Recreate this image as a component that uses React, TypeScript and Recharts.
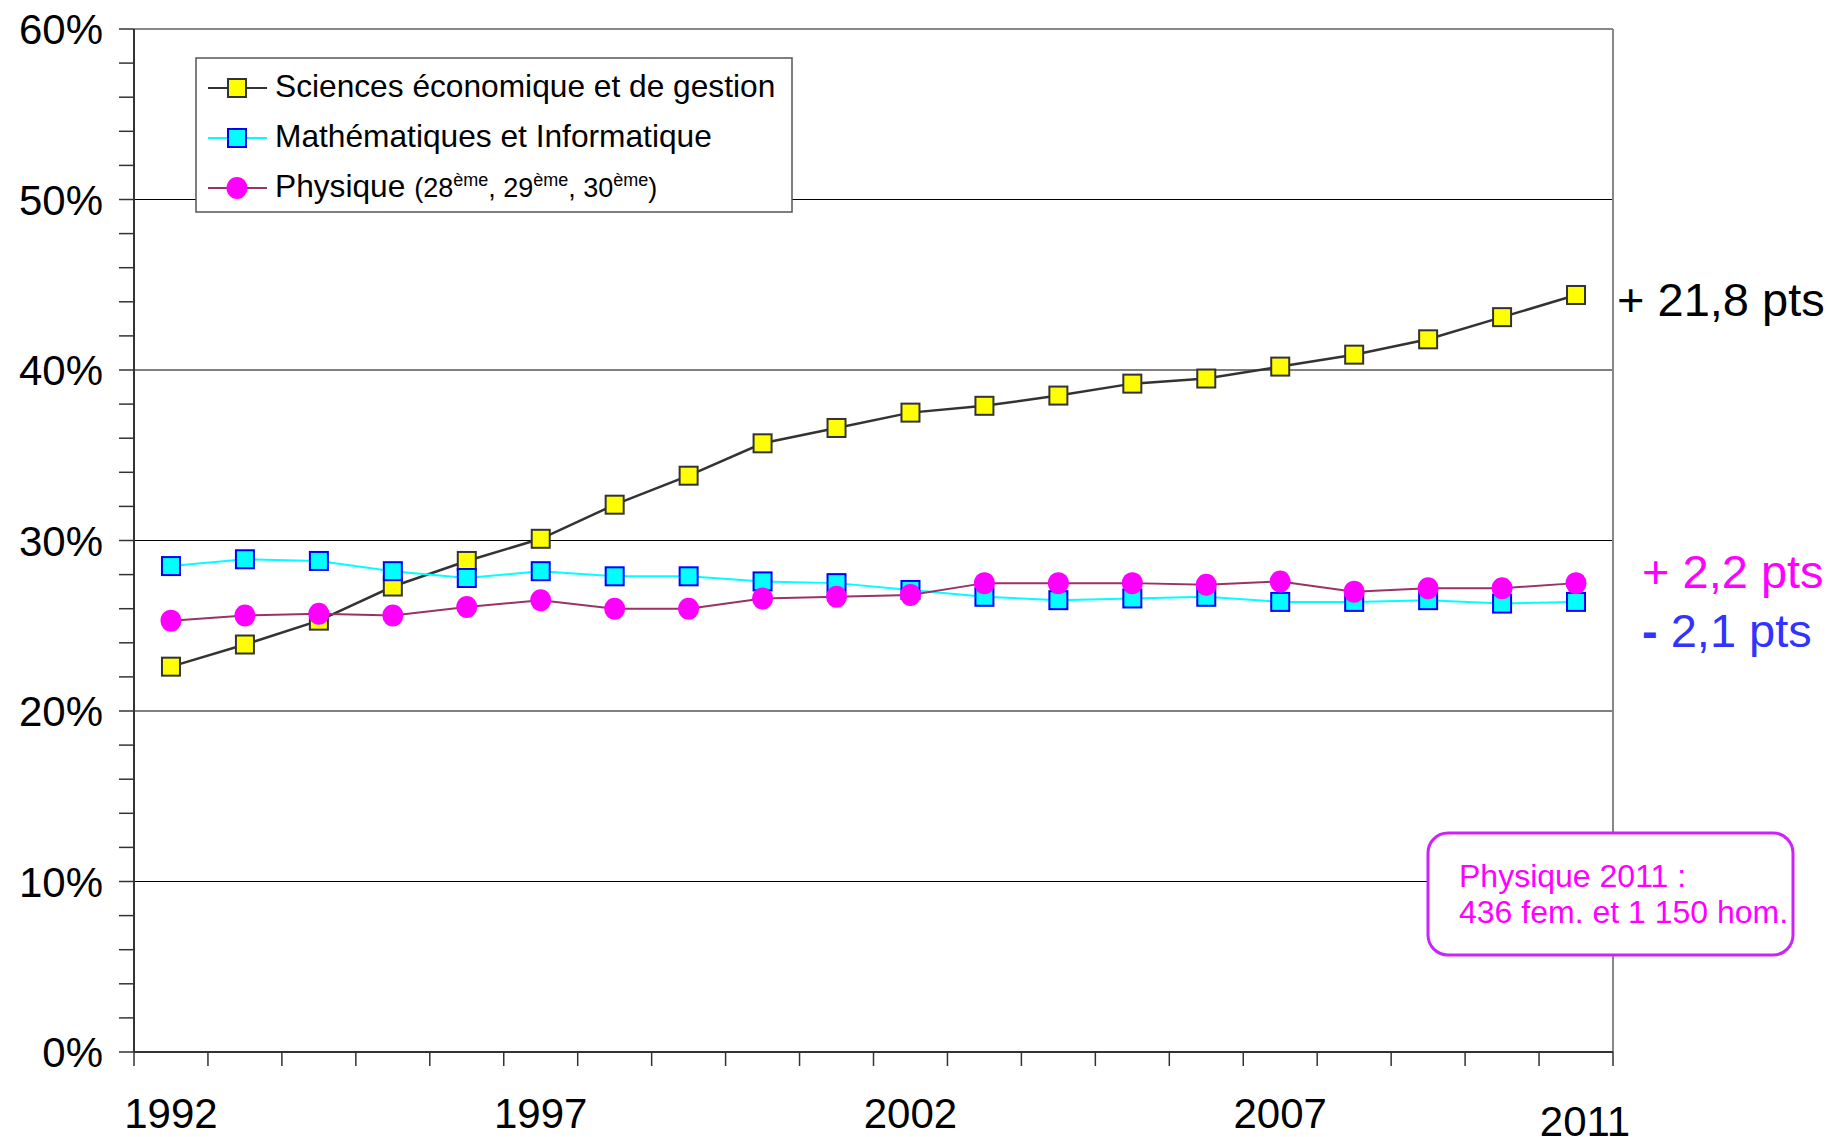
import React from "react";
import { LineChart, Line, XAxis, YAxis, CartesianGrid, ReferenceLine } from "recharts";

const years = [
    1992, 1993, 1994, 1995, 1996, 1997, 1998, 1999, 2000, 2001,
    2002, 2003, 2004, 2005, 2006, 2007, 2008, 2009, 2010, 2011,
];
const sciencesEco = [
    22.6, 23.9, 25.3, 27.3, 28.8, 30.1, 32.1, 33.8, 35.7, 36.6,
    37.5, 37.9, 38.5, 39.2, 39.5, 40.2, 40.9, 41.8, 43.1, 44.4,
];
const mathsInfo = [
    28.5, 28.9, 28.8, 28.2, 27.8, 28.2, 27.9, 27.9, 27.6, 27.5,
    27.1, 26.7, 26.5, 26.6, 26.7, 26.4, 26.4, 26.5, 26.3, 26.4,
];
const physique = [
    25.3, 25.6, 25.7, 25.6, 26.1, 26.5, 26.0, 26.0, 26.6, 26.7,
    26.8, 27.5, 27.5, 27.5, 27.4, 27.6, 27.0, 27.2, 27.2, 27.5,
];
const xLabels = [1992, 1997, 2002, 2007, 2011];
const yTicks = [
    0, 2, 4, 6, 8, 10, 12, 14, 16, 18, 20, 22, 24, 26, 28, 30,
    32, 34, 36, 38, 40, 42, 44, 46, 48, 50, 52, 54, 56, 58, 60,
];
const gridValues = [10, 20, 30, 40, 50];

const FONT = "'Liberation Sans', Arial, sans-serif";

const data = years.map((year, i) => ({
    year,
    eco: sciencesEco[i],
    maths: mathsInfo[i],
    phys: physique[i],
}));

// tick lines sit between the years, labels on the years
const boundaries = [...years.map((y) => y - 0.5), years[years.length - 1] + 0.5];
const xTicks = [...boundaries, ...xLabels].sort((a, b) => a - b);

function XTick({ x, y, payload }: any) {
    const v = payload.value;
    if (!Number.isInteger(v)) {
        return <line x1={x} x2={x} y1={y} y2={y + 14} stroke="#333" strokeWidth={1.5} />;
    }
    const last = v === 2011;
    return (
        <text x={x + (last ? 9 : 0)} y={y + (last ? 84 : 76)} textAnchor="middle"
            fontSize={42} fontFamily={FONT} fill="#000">
            {v}
        </text>
    );
}

function YTick({ x, y, payload }: any) {
    const v = payload.value;
    return (
        <g>
            <line x1={x - 15} x2={x} y1={y} y2={y} stroke="#333" strokeWidth={1.5} />
            {v % 10 === 0 && (
                <text x={x - 31} y={y + 15} textAnchor="end" fontSize={42} fontFamily={FONT} fill="#000">
                    {v}%
                </text>
            )}
        </g>
    );
}

const squareDot = (fill: string, stroke: string) => (props: any) => {
    const { cx, cy, index } = props;
    if (cx == null || cy == null) return <g key={index} />;
    return <rect key={index} x={cx - 9} y={cy - 9} width={18} height={18} fill={fill} stroke={stroke} strokeWidth={2} />;
};

const roundDot = (props: any) => {
    const { cx, cy, index } = props;
    if (cx == null || cy == null) return <g key={index} />;
    return <ellipse key={index} cx={cx} cy={cy} rx={10.5} ry={11} fill="#FF00FF" />;
};

function Overlay() {
    return (
        <svg width={1832} height={1137} style={{ position: "absolute", left: 0, top: 0, pointerEvents: "none" }}
            fontFamily={FONT}>
            {/* legend */}
            <rect x={196} y={58} width={596} height={154} fill="#fff" stroke="#555" strokeWidth={1.5} />
            <line x1={208} x2={267} y1={88} y2={88} stroke="#333" strokeWidth={2} />
            <rect x={228} y={79} width={18} height={18} fill="#FFFF00" stroke="#333" strokeWidth={2} />
            <text x={275} y={97} fontSize={31.7}>Sciences économique et de gestion</text>
            <line x1={208} x2={267} y1={138} y2={138} stroke="#00FFFF" strokeWidth={2} />
            <rect x={228} y={129} width={18} height={18} fill="#00FFFF" stroke="#0000FF" strokeWidth={2} />
            <text x={275} y={147} fontSize={31.7}>Mathématiques et Informatique</text>
            <line x1={208} x2={267} y1={188} y2={188} stroke="#993366" strokeWidth={2} />
            <ellipse cx={237} cy={188} rx={10.5} ry={11} fill="#FF00FF" />
            <text x={275} y={197} fontSize={31.7}>
                Physique{" "}
                <tspan fontSize={27}>(28</tspan>
                <tspan fontSize={18} dy={-11}>ème</tspan>
                <tspan fontSize={27} dy={11}>, 29</tspan>
                <tspan fontSize={18} dy={-11}>ème</tspan>
                <tspan fontSize={27} dy={11}>, 30</tspan>
                <tspan fontSize={18} dy={-11}>ème</tspan>
                <tspan fontSize={27} dy={11}>)</tspan>
            </text>

            {/* differences 1992 -> 2011 */}
            <text x={1617} y={316} fontSize={47} fill="#000">+ 21,8 pts</text>
            <text x={1642} y={588} fontSize={47} fill="#FF00FF">+ 2,2 pts</text>
            <text x={1642} y={647} fontSize={47} fill="#3333FF">
                <tspan fontWeight="bold">-</tspan> 2,1 pts
            </text>

            {/* note */}
            <rect x={1428} y={833} width={365} height={122} rx={20} ry={20} fill="#fff" stroke="#CC22FF" strokeWidth={3} />
            <text x={1459} y={887} fontSize={32} fill="#FF00FF">Physique 2011 :</text>
            <text x={1459} y={923} fontSize={32} fill="#FF00FF">436 fem. et 1 150 hom.</text>
        </svg>
    );
}

export default function App() {
    return (
        <div style={{ position: "absolute", left: 0, top: 0, width: 1832, height: 1137, background: "#fff" }}>
            <LineChart width={1832} height={1137} data={data}
                margin={{ top: 29, right: 219, bottom: 0, left: 0 }}>
                <CartesianGrid horizontal vertical={false} horizontalValues={gridValues} stroke="#000" strokeWidth={1} />
                <ReferenceLine y={60} stroke="#888" strokeWidth={2} />
                <ReferenceLine x={2011.5} stroke="#888" strokeWidth={2} />
                <XAxis type="number" dataKey="year" domain={[1991.5, 2011.5]} ticks={xTicks} interval={0}
                    height={85} tickSize={0} tickMargin={0} tickLine={false}
                    axisLine={{ stroke: "#333", strokeWidth: 2 }} tick={<XTick />} allowDecimals />
                <YAxis type="number" domain={[0, 60]} ticks={yTicks} interval={0} width={134}
                    tickSize={0} tickMargin={0} tickLine={false}
                    axisLine={{ stroke: "#333", strokeWidth: 2 }} tick={<YTick />} />
                <Line type="linear" dataKey="eco" stroke="#333333" strokeWidth={2.5}
                    dot={squareDot("#FFFF00", "#333")} isAnimationActive={false} />
                <Line type="linear" dataKey="maths" stroke="#00FFFF" strokeWidth={2}
                    dot={squareDot("#00FFFF", "#0000FF")} isAnimationActive={false} />
                <Line type="linear" dataKey="phys" stroke="#993366" strokeWidth={2}
                    dot={roundDot} isAnimationActive={false} />
            </LineChart>
            <Overlay />
        </div>
    );
}
